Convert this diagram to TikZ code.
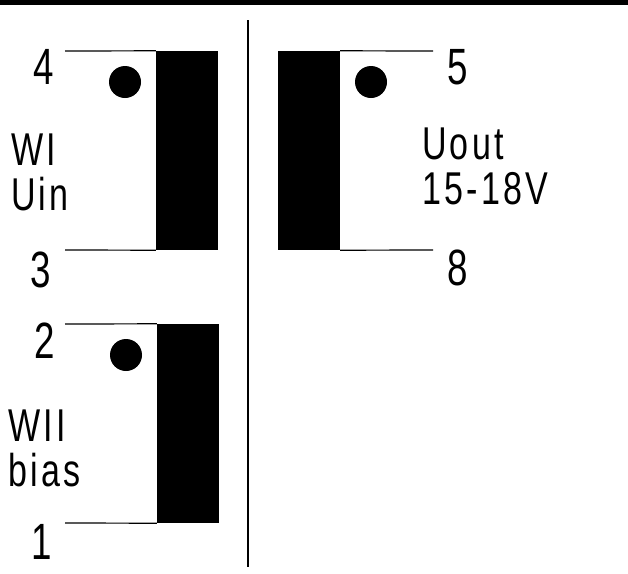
\documentclass[tikz,border=0pt]{standalone}
\usepackage{fontspec}
\usepackage{tikz}
\usetikzlibrary{positioning}
\newfontfamily\pinfont[FakeStretch=0.72]{Liberation Sans}
\newfontfamily\noteFont[FakeStretch=0.74,LetterSpace=7]{Liberation Sans}
\tikzset{
  core/.style={rectangle, draw=none, fill=black, minimum width=62pt, minimum height=199pt, inner sep=0pt},
  dot/.style={circle, draw=none, fill=black, minimum size=32pt, inner sep=0pt},
  pin/.style={inner sep=0pt, font=\pinfont\fontsize{51}{51}\selectfont},
  note/.style={inner sep=0pt, align=left, font=\noteFont\fontsize{46}{45}\selectfont},
  lead/.style={line width=1.2pt}
}

\begin{document}
\begin{tikzpicture}[x=1pt, y=-1pt]
        \useasboundingbox (0,0) rectangle (628,573);
        % Top rule and divider
        \fill (0,0) rectangle (628,4.5);
        \coordinate (div_top) at (248,20);
        \coordinate (div_bot) at (248,567);
        \draw [lead] (div_top) -- (div_bot);

        % Winding I
        \node (core_wi) [core] at (187,150.5) {};
        \node (dot_wi) [dot] at (125,82) {};
        \coordinate (end_4) at (65,51);
        \coordinate (end_3) at (65,250);
        \node (pin_4) [pin] at (44,67) {4};
        \node (pin_3) [pin] at (41,270) {3};
        \node (note_wi) [note, anchor=west] at (11,172.5) {WI\\Uin};
        \draw [lead] (end_4) -- (core_wi.north west);
        \draw [lead] (end_3) -- (core_wi.south west);

        % Output winding
        \node (core_out) [core] at (309,150.5) {};
        \node (dot_out) [dot] at (371,82) {};
        \coordinate (end_5) at (433,51);
        \coordinate (end_8) at (433,250);
        \node (pin_5) [pin] at (458,67.5) {5};
        \node (pin_8) [pin] at (458,268) {8};
        \node (note_out) [note, anchor=west] at (422,166.5) {Uout\\15-18V};
        \draw [lead] (end_5) -- (core_out.north east);
        \draw [lead] (end_8) -- (core_out.south east);

        % Winding II
        \node (core_wii) [core] at (188,423.5) {};
        \node (dot_wii) [dot] at (126,355) {};
        \coordinate (end_2) at (65,324);
        \coordinate (end_1) at (65,523);
        \node (pin_2) [pin] at (45,341) {2};
        \node (pin_1) [pin] at (42,542) {1};
        \node (note_wii) [note, anchor=west] at (8,448) {WII\\bias};
        \draw [lead] (end_2) -- (core_wii.north west);
        \draw [lead] (end_1) -- (core_wii.south west);
\end{tikzpicture}
\end{document}
